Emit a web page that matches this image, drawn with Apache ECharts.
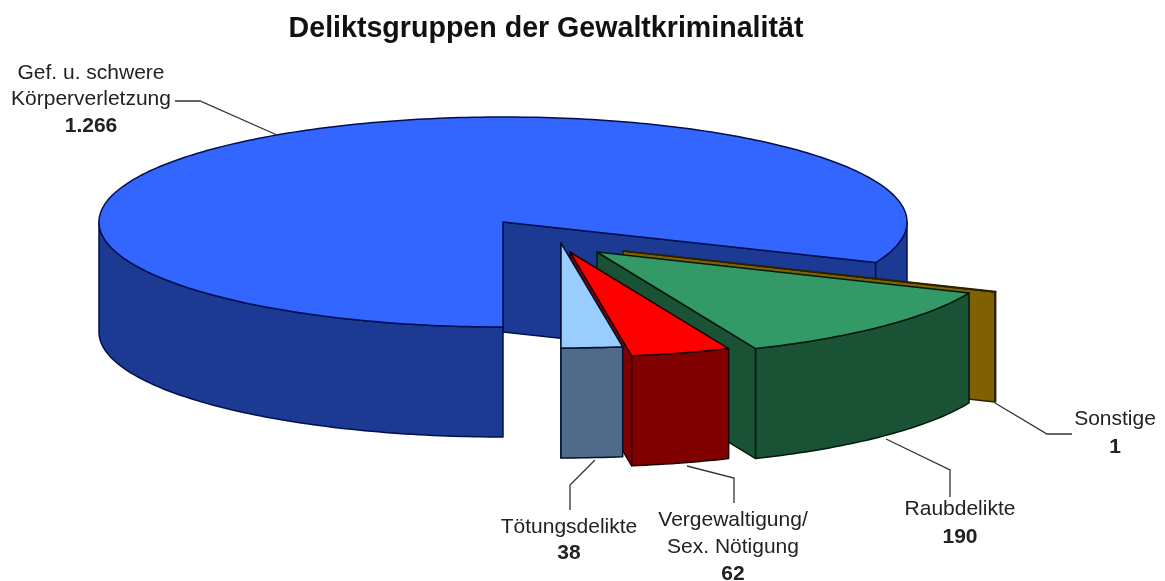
<!DOCTYPE html>
<html><head><meta charset="utf-8">
<style>html,body{margin:0;padding:0;background:#fff}#c{width:1165px;height:581px}</style>
<script src="https://cdn.jsdelivr.net/npm/echarts@6/dist/echarts.min.js"></script>
</head><body><div id="c"></div>
<script>
const chartTitle = 'Deliktsgruppen der Gewaltkriminalität';
const categories = ['Gef. u. schwere\nKörperverletzung', 'Sonstige', 'Raubdelikte', 'Vergewaltigung/\nSex. Nötigung', 'Tötungsdelikte'];
const values = [1266, 1, 190, 62, 38];
const valueLabels = ['1.266', '1', '190', '62', '38'];

// drawing style, separate from the data
const topColors  = ['#3366ff', '#806000', '#339966', '#ff0000', '#99ccff'];
const wallColors = ['#1c3a94', '#806000', '#1a5236', '#800000', '#506a8a'];
const edgeColors = ['#00104f', '#2a2000', '#001a0c', '#200000', '#001030'];
const centres = [[503, 222], [623, 251], [597, 252], [570, 252], [561, 243]];
const RX = 404, RY = 105, DEPTH = 110, START = 90;
const leaders = [
  [[175, 101], [200, 101], [277, 135]],
  [[995, 403], [1047, 434], [1072, 434]],
  [[886, 439], [950, 470], [950, 497]],
  [[687, 466], [734, 478], [734, 503]],
  [[595, 460], [570, 485], [570, 510]]
];
const labelAnchors = [
  {x: 91, y: 73, step: 26.5},
  {x: 1115, y: 419, step: 28},
  {x: 960, y: 509, step: 28},
  {x: 733, y: 520, step: 27},
  {x: 569, y: 527, step: 26}
];

const total = values.reduce((a, b) => a + b, 0);
const spans = [];
values.reduce((a, v) => { const b = a + v / total * 360; spans.push([a, b]); return b; }, START);

const rad = d => d * Math.PI / 180;
const pt = (c, t, dz) => [c[0] + RX * Math.cos(rad(t)), c[1] + RY * Math.sin(rad(t)) + (dz || 0)];
function arc(c, a, b, dz) {
  const n = Math.max(1, Math.ceil(Math.abs(b - a))), out = [];
  for (let i = 0; i <= n; i++) out.push(pt(c, a + (b - a) * i / n, dz));
  return out;
}
const poly = (points, fill, stroke) => ({type: 'polygon', shape: {points}, style: {fill, stroke, lineWidth: 1.5, lineJoin: 'round'}});

function renderItem(params) {
  const i = params.dataIndex, c = centres[i], [a, b] = spans[i], ch = [];
  // cut face at the end angle
  ch.push(poly([c, pt(c, b), pt(c, b, DEPTH), [c[0], c[1] + DEPTH]], wallColors[i], edgeColors[i]));
  // outer wall: only the part of the rim that faces the viewer
  [[0, 180], [360, 540]].forEach(([lo, hi]) => {
    const s = Math.max(a, lo), e = Math.min(b, hi);
    if (e > s) ch.push(poly(arc(c, s, e).concat(arc(c, e, s, DEPTH)), wallColors[i], edgeColors[i]));
  });
  // top face
  ch.push(poly([c].concat(arc(c, a, b)), topColors[i], edgeColors[i]));
  return {type: 'group', children: ch};
}

function renderLabel(params) {
  const i = params.dataIndex, la = labelAnchors[i], ch = [];
  ch.push({type: 'polyline', shape: {points: leaders[i]}, style: {fill: 'none', stroke: '#333', lineWidth: 1.3}});
  const lines = categories[i].split('\n');
  lines.forEach((t, k) => ch.push({type: 'text', style: {text: t, x: la.x, y: la.y + k * la.step, fill: '#222',
    font: '21px "Liberation Sans", Arial, sans-serif', textAlign: 'center', textVerticalAlign: 'middle'}}));
  ch.push({type: 'text', style: {text: valueLabels[i], x: la.x, y: la.y + lines.length * la.step, fill: '#222',
    font: 'bold 21px "Liberation Sans", Arial, sans-serif', textAlign: 'center', textVerticalAlign: 'middle'}});
  return {type: 'group', children: ch};
}

const chart = echarts.init(document.getElementById('c'), null, {renderer: 'canvas'});
chart.setOption({
  animation: false,
  backgroundColor: '#ffffff',
  title: {text: chartTitle, left: 541, top: 10, textAlign: 'center',
    textStyle: {fontFamily: '"Liberation Sans", Arial, sans-serif', fontWeight: 'bold', fontSize: 28.6, color: '#111'}},
  series: [
    {type: 'custom', coordinateSystem: 'none', renderItem, clip: false, silent: true, z: 2,
     data: values.map((v, i) => [v, i])},
    {type: 'custom', coordinateSystem: 'none', renderItem: renderLabel, clip: false, silent: true, z: 3,
     data: values.map((v, i) => [v, i])}
  ]
});
</script></body></html>
